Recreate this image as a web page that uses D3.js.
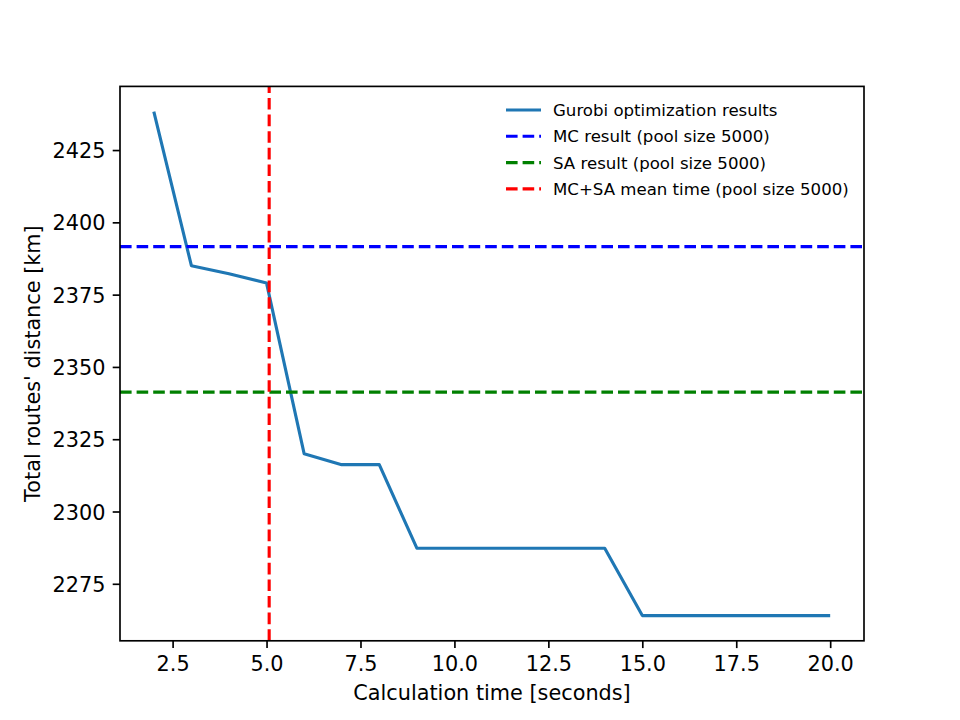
<!DOCTYPE html>
<html>
<head>
<meta charset="utf-8">
<script src="https://cdn.jsdelivr.net/npm/d3@7"></script>
<style>
  body { margin: 0; background: #fff; }
  svg text { font-family: "DejaVu Sans", sans-serif; fill: #000; }
</style>
</head>
<body>
<div id="chart"></div>
<script>
'use strict'
// data
const times = [2, 3, 4, 5, 6, 7, 8, 9, 10, 11, 12, 13, 14, 15, 16, 17, 18, 19, 20]
const gurobi = [2438.3, 2385.0, 2382.2, 2379.0, 2320.0, 2316.2, 2316.2, 2287.3, 2287.3, 2287.3,
  2287.3, 2287.3, 2287.3, 2264.0, 2264.0, 2264.0, 2264.0, 2264.0, 2264.0]
const mcResult = 2391.6
const saResult = 2341.3
const meanTime = 5.07
const xTicks = [2.5, 5.0, 7.5, 10.0, 12.5, 15.0, 17.5, 20.0]
const yTicks = [2275, 2300, 2325, 2350, 2375, 2400, 2425]
const legendLabels = ["Gurobi optimization results", "MC result (pool size 5000)",
  "SA result (pool size 5000)", "MC+SA mean time (pool size 5000)"]
const legendColors = ["#1f77b4", "#0000ff", "#008000", "#ff0000"]

const W = 960, H = 720
const box = {left: 120, right: 864, top: 86.4, bottom: 640.8}
const fs = 20.8, lw = 3.125, dash = "11.6,5"

const svg = d3.select("#chart").append("svg")
  .attr("width", W).attr("height", H)

// matplotlib-style 5% margins
const xMin = d3.min(times), xMax = d3.max(times)
const yMin = d3.min(gurobi), yMax = d3.max(gurobi)
const xPad = (xMax - xMin) * 0.05, yPad = (yMax - yMin) * 0.05
const x = d3.scaleLinear().domain([xMin - xPad, xMax + xPad]).range([box.left, box.right])
const y = d3.scaleLinear().domain([yMin - yPad, yMax + yPad]).range([box.bottom, box.top])

const plot = svg.append("g")
svg.append("clipPath").attr("id", "clip").append("rect")
  .attr("x", box.left).attr("y", box.top)
  .attr("width", box.right - box.left).attr("height", box.bottom - box.top)
plot.attr("clip-path", "url(#clip)")

// gurobi line
plot.append("path")
  .datum(times.map((t, i) => [t, gurobi[i]]))
  .attr("fill", "none")
  .attr("stroke", legendColors[0])
  .attr("stroke-width", lw)
  .attr("stroke-linejoin", "round")
  .attr("d", d3.line().x(d => x(d[0])).y(d => y(d[1])))

// reference lines
plot.append("line")
  .attr("x1", box.left).attr("x2", box.right)
  .attr("y1", y(mcResult)).attr("y2", y(mcResult))
  .attr("stroke", legendColors[1]).attr("stroke-width", lw).attr("stroke-dasharray", dash)
plot.append("line")
  .attr("x1", box.left).attr("x2", box.right)
  .attr("y1", y(saResult)).attr("y2", y(saResult))
  .attr("stroke", legendColors[2]).attr("stroke-width", lw).attr("stroke-dasharray", dash)
plot.append("line")
  .attr("x1", x(meanTime)).attr("x2", x(meanTime))
  .attr("y1", box.bottom).attr("y2", box.top)
  .attr("stroke", legendColors[3]).attr("stroke-width", lw).attr("stroke-dasharray", dash)

// axes
const xAxis = d3.axisBottom(x).tickValues(xTicks).tickFormat(d3.format(".1f"))
  .tickSizeOuter(0).tickSizeInner(7.3).tickPadding(7.3)
const yAxis = d3.axisLeft(y).tickValues(yTicks).tickFormat(d3.format("d"))
  .tickSizeOuter(0).tickSizeInner(7.3).tickPadding(7.3)

const gx = svg.append("g").attr("transform", `translate(0,${box.bottom})`).call(xAxis)
const gy = svg.append("g").attr("transform", `translate(${box.left},0)`).call(yAxis)
for (const g of [gx, gy]) {
  g.select(".domain").remove()
  g.selectAll(".tick line").attr("stroke", "#000").attr("stroke-width", 1.67)
  g.selectAll(".tick text").attr("font-size", fs).attr("font-family", "DejaVu Sans")
}
gx.selectAll(".tick text").attr("dy", "0.76em")
gy.selectAll(".tick text").attr("dy", "0.36em")

// frame
svg.append("rect")
  .attr("x", box.left).attr("y", box.top)
  .attr("width", box.right - box.left).attr("height", box.bottom - box.top)
  .attr("fill", "none").attr("stroke", "#000").attr("stroke-width", 1.67)

// axis labels
svg.append("text")
  .attr("x", (box.left + box.right) / 2).attr("y", 700)
  .attr("text-anchor", "middle").attr("font-size", fs)
  .text("Calculation time [seconds]")
svg.append("text")
  .attr("transform", `translate(40,${(box.top + box.bottom) / 2}) rotate(-90)`)
  .attr("text-anchor", "middle").attr("font-size", fs)
  .text("Total routes' distance [km]")

// legend (no frame)
const lfs = 16.6
const legend = svg.append("g").attr("transform", "translate(506,110)")
legendLabels.forEach((lab, i) => {
  const row = legend.append("g").attr("transform", `translate(0,${i * 26.3})`)
  row.append("line")
    .attr("x1", 0).attr("x2", 35).attr("y1", 0).attr("y2", 0)
    .attr("stroke", legendColors[i]).attr("stroke-width", lw)
    .attr("stroke-dasharray", i === 0 ? null : dash)
  row.append("text")
    .attr("x", 47).attr("dy", "0.36em")
    .attr("font-size", lfs)
    .text(lab)
})
</script>
</body>
</html>
